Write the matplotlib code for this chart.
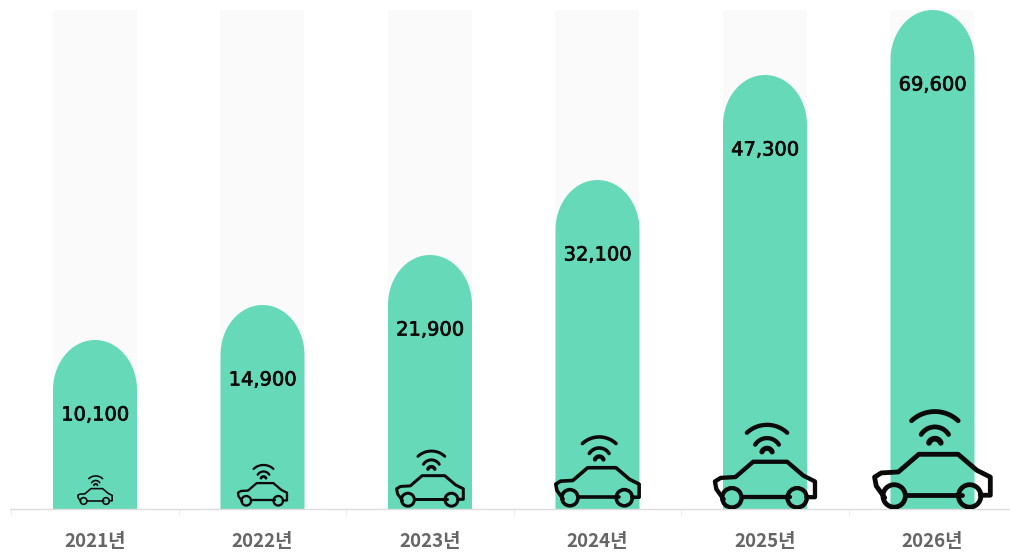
import numpy as np
import matplotlib
matplotlib.use("Agg")
import matplotlib.pyplot as plt
import matplotlib.patheffects as pe
from matplotlib.patches import Ellipse

# Connected-car counts per year
years = ["2021년", "2022년", "2023년", "2024년", "2025년", "2026년"]
values = [10100, 14900, 21900, 32100, 47300, 69600]

# The column heights follow a hand-drawn, non-linear value axis
axis_values = [0, 10100, 14900, 21900, 32100, 47300, 69600]
axis_heights = [0, 169, 204, 254, 329, 434, 499]

icon_sizes = [35, 50, 68, 85, 102, 118]
icon_strokes = [1.6, 2.3, 3.0, 3.6, 4.3, 4.8]
icon_lifts = [4, 2.5, 1.5, 1.5, -0.5, -0.5]

BAR = "#66d9b8"
TRACK = "#fafafa"
INK = "#0a0a0a"
W, H = 1010, 552
BASE = 509
STEP = 167.5
X0 = 95
BAR_W = 84
CAP_H = 50

plt.rcParams["font.family"] = ["Noto Sans CJK KR", "DejaVu Sans"]
fig = plt.figure(figsize=(W / 100, H / 100), dpi=100, facecolor="white")
ax = fig.add_axes([0, (H - BASE) / H, 1, BASE / H])
ax.set_yticks([])
for side in ("top", "left", "right"):
    ax.spines[side].set_visible(False)
ax.spines["bottom"].set_color("#dcdcdc")
ax.spines["bottom"].set_linewidth(1.0)
ax.spines["bottom"].set_bounds((10 - X0) / STEP, (W - X0) / STEP)
ax.patch.set_alpha(0)


def value_height(v):
    return float(np.interp(v, axis_values, axis_heights))


def dome(ax, i, top, color, zorder):
    """Column with an elliptical cap whose apex sits at `top`."""
    half = BAR_W / 2 / STEP
    t = np.linspace(np.pi, 0, 64)
    xs = np.r_[i - half, i + half * np.cos(t), i + half]
    ys = np.r_[0, top - CAP_H + CAP_H * np.sin(t), 0]
    ax.fill(xs, ys, color=color, lw=0, zorder=zorder)


# Normalised car outline: unit width, origin at lower left of the wheels
body = np.array([[.095, .10], [.023, .20], [.009, .275], [.066, .31], [.21, .318],
                 [.384, .468], [.717, .468], [.876, .332], [.99, .275], [.99, .121],
                 [.905, .121]])
sill = np.array([[.28, .125], [.75, .125]])
wheel_x = [.175, .815]
wheel_y, wheel_r = .115, .095
# Wi-Fi arcs: radius, centre height, half-span in degrees, stroke factor
wifi_arcs = [(.29, .54, 43, 1.0), (.137, .563, 58, 1.0), (.053, .547, 70, 1.2)]
wifi_x = .52


def car_icon(ax, i, size, lw_px, lift):
    lw = lw_px * 0.72
    kw = dict(color=INK, lw=lw, solid_capstyle="round", solid_joinstyle="round", zorder=5)

    def px(points):
        pts = np.asarray(points)
        return i + (pts[:, 0] - 0.5) * size / STEP, lift + pts[:, 1] * size

    ax.plot(*px(body), **kw)
    ax.plot(*px(sill), **kw)
    for wx in wheel_x:
        ax.add_patch(Ellipse((i + (wx - 0.5) * size / STEP, lift + wheel_y * size),
                             2 * wheel_r * size / STEP, 2 * wheel_r * size,
                             fill=False, ec=INK, lw=lw, zorder=5))
    for radius, centre, span, scale in wifi_arcs:
        t = np.radians(np.linspace(90 - span, 90 + span, 30))
        arc = np.c_[wifi_x + radius * np.cos(t), centre + radius * np.sin(t)]
        ax.plot(*px(arc), color=INK, lw=lw * scale, solid_capstyle="round", zorder=5)


positions = np.arange(len(years))
ax.bar(positions, [BASE - 10] * len(years), width=BAR_W / STEP, color=TRACK, zorder=1)

for i, (v, size, stroke, lift) in enumerate(zip(values, icon_sizes, icon_strokes, icon_lifts)):
    top = value_height(v)
    dome(ax, i, top, BAR, 2)
    car_icon(ax, i, size, stroke, lift)
    label = ax.text(i, top - 75, f"{v:,}", ha="center", va="center", fontsize=14,
                    family="DejaVu Sans", color=INK, zorder=6)
    label.set_path_effects([pe.withStroke(linewidth=0.5, foreground=INK)])

ax.set_xticks(positions)
ax.set_xticklabels(years, fontsize=13.5, color="#666666", fontweight="bold")
ax.tick_params(axis="x", which="major", length=0, pad=16.5)
ax.set_xticks(np.arange(-0.5, 5.0), minor=True)
ax.tick_params(axis="x", which="minor", length=4, width=0.8, color="#eeeeee")
ax.set_xlim(-X0 / STEP, (W - X0) / STEP)
ax.set_ylim(0, BASE)

fig.savefig("out.png", dpi=100, facecolor="white")
